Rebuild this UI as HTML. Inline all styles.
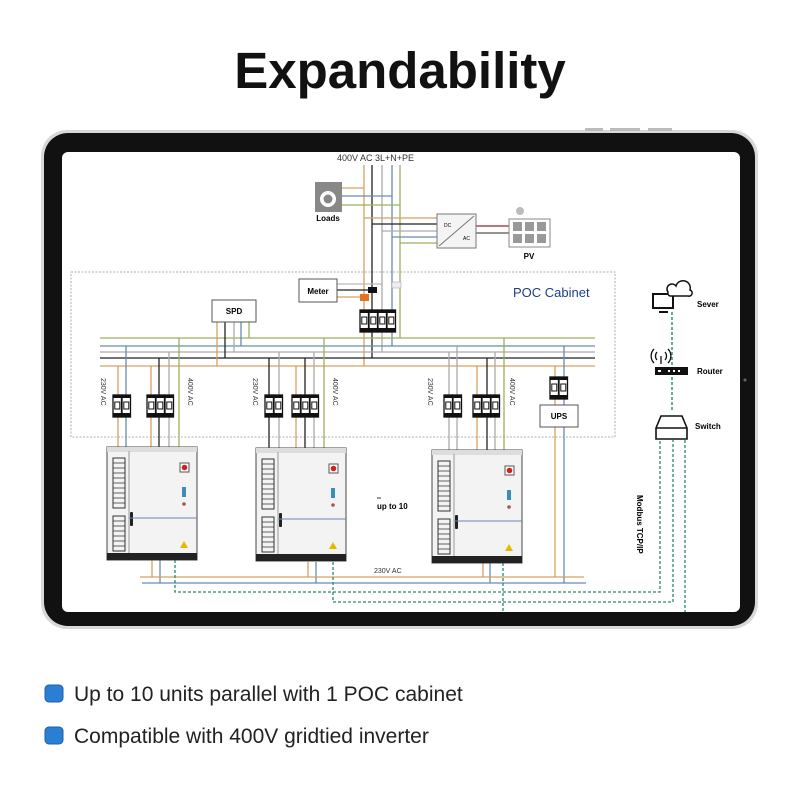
<!DOCTYPE html>
<html><head><meta charset="utf-8"><style>
body{margin:0;background:#fff;width:800px;height:800px;overflow:hidden;font-family:"Liberation Sans",sans-serif}
</style></head><body>
<svg width="800" height="800" viewBox="0 0 800 800" xmlns="http://www.w3.org/2000/svg" font-family="Liberation Sans, sans-serif">
<defs>
<g id="brk"><rect x="0" y="0" width="8.5" height="22" fill="#fff" stroke="#111" stroke-width="1.3"/><rect x="1.8" y="7" width="5" height="7" fill="none" stroke="#111" stroke-width="1"/><rect x="0" y="18" width="8.5" height="4" fill="#111"/><rect x="0" y="0" width="8.5" height="3" fill="#111"/></g>
<g id="cab">
<rect x="0" y="0" width="90" height="113" fill="#f3f3f3" stroke="#444" stroke-width="1"/>
<rect x="0" y="0" width="90" height="5" fill="#ddd"/>
<line x1="22" y1="4" x2="22" y2="106" stroke="#999"/>
<g fill="none" stroke="#333" stroke-width="1"><rect x="6" y="11" width="12" height="50"/><rect x="6" y="69" width="12" height="35"/></g>
<g stroke="#333" stroke-width="0.8"><path d="M6 16h12M6 21h12M6 26h12M6 31h12M6 36h12M6 41h12M6 46h12M6 51h12M6 56h12M6 74h12M6 79h12M6 84h12M6 89h12M6 94h12M6 99h12"/></g>
<rect x="23" y="65" width="3" height="14" rx="1" fill="#222"/>
<line x1="22" y1="71" x2="90" y2="71" stroke="#6a86b8" stroke-width="1"/>
<rect x="73" y="16" width="9" height="9" fill="#fff" stroke="#555"/><circle cx="77.5" cy="20.5" r="2.8" fill="#c22"/>
<rect x="75" y="40" width="4" height="10" fill="#3a8fb8"/><circle cx="77" cy="57" r="1.8" fill="#a55"/>
<path d="M77 94l4 7h-8z" fill="#e8b800"/>
<rect x="0" y="106" width="90" height="7" fill="#222"/>
</g>
</defs>
<rect width="800" height="800" fill="#fff"/>
<text x="400" y="88" text-anchor="middle" font-size="51" font-weight="bold" fill="#111">Expandability</text>
<!-- tablet -->
<rect x="41" y="130" width="717" height="499" rx="26" fill="#d8d8d8"/>
<rect x="44" y="133" width="711" height="493" rx="24" fill="#111"/>
<rect x="62" y="152" width="678" height="460" rx="6" fill="#fff"/>
<rect x="585" y="128" width="18" height="3" fill="#bbb"/><rect x="610" y="128" width="30" height="3" fill="#bbb"/><rect x="648" y="128" width="24" height="3" fill="#bbb"/>
<circle cx="745" cy="380" r="1.5" fill="#666"/>
<!-- POC dashed -->
<rect x="71" y="272" width="544" height="165" fill="none" stroke="#999" stroke-width="0.8" stroke-dasharray="2,1.5"/>
<text x="513" y="297" font-size="13" fill="#1a3e8c">POC Cabinet</text>
<text x="337" y="161" font-size="9" fill="#333">400V AC  3L+N+PE</text>
<g stroke-width="1.3" fill="none">
<!-- main verticals -->
<line x1="364" y1="165" x2="364" y2="366" stroke="#d8a060"/>
<line x1="372" y1="165" x2="372" y2="358" stroke="#222"/>
<line x1="382" y1="165" x2="382" y2="352" stroke="#aaa"/>
<line x1="392" y1="165" x2="392" y2="346" stroke="#6a8ab0"/>
<line x1="400" y1="165" x2="400" y2="338" stroke="#9ab060"/>
<!-- loads feeds -->
<line x1="342" y1="188" x2="364" y2="188" stroke="#d8a060"/>
<line x1="342" y1="196" x2="392" y2="196" stroke="#6a8ab0"/>
<line x1="342" y1="205" x2="400" y2="205" stroke="#9ab060"/>
<!-- inverter feeds -->
<line x1="364" y1="218" x2="437" y2="218" stroke="#d8a060"/>
<line x1="372" y1="224" x2="437" y2="224" stroke="#222"/>
<line x1="382" y1="231" x2="437" y2="231" stroke="#aaa"/>
<line x1="392" y1="237" x2="437" y2="237" stroke="#6a8ab0"/>
<line x1="400" y1="243" x2="437" y2="243" stroke="#9ab060"/>
<line x1="476" y1="226" x2="509" y2="226" stroke="#a02020"/>
<line x1="476" y1="233" x2="509" y2="233" stroke="#555"/>
<!-- buses -->
<line x1="100" y1="338" x2="595" y2="338" stroke="#9ab060"/>
<line x1="100" y1="346" x2="595" y2="346" stroke="#6a8ab0"/>
<line x1="100" y1="352" x2="595" y2="352" stroke="#aaa"/>
<line x1="100" y1="358" x2="595" y2="358" stroke="#222"/>
<line x1="100" y1="366" x2="595" y2="366" stroke="#d8a060"/>
<!-- SPD -->
<line x1="217" y1="322" x2="217" y2="366" stroke="#d8a060"/>
<line x1="225" y1="322" x2="225" y2="358" stroke="#222"/>
<line x1="234" y1="322" x2="234" y2="352" stroke="#aaa"/>
<line x1="241" y1="322" x2="241" y2="346" stroke="#6a8ab0"/>
<line x1="249" y1="322" x2="249" y2="338" stroke="#9ab060"/>
<!-- meter -->
<line x1="337" y1="284" x2="382" y2="284" stroke="#bbb"/>
<line x1="337" y1="290" x2="372" y2="290" stroke="#222"/>
<line x1="337" y1="297" x2="364" y2="297" stroke="#d8a060"/>
<!-- drops -->
<path d="M118 366V447M151 366V447" stroke="#d8a060"/>
<path d="M126 346V447" stroke="#6a8ab0"/>
<path d="M159 358V447" stroke="#222"/>
<path d="M169 352V447" stroke="#aaa"/>
<path d="M179 338V447" stroke="#9ab060"/>
<path d="M269 358V448M305 358V448" stroke="#222"/>
<path d="M279 352V448M314 352V448" stroke="#aaa"/>
<path d="M296 366V448" stroke="#d8a060"/>
<path d="M324 338V448" stroke="#9ab060"/>
<path d="M449 352V450M457 346V450M495 352V450" stroke="#aaa"/>
<path d="M477 366V450" stroke="#d8a060"/>
<path d="M487 358V450" stroke="#222"/>
<path d="M504 338V450" stroke="#9ab060"/>
<path d="M555 366V577" stroke="#d8a060"/>
<path d="M564 346V583" stroke="#6a8ab0"/>
<!-- bottom -->
<path d="M152 560V577M308 562V577M483 563V577" stroke="#d8a060"/>
<path d="M160 560V583M316 562V583M490 563V583" stroke="#6a8ab0"/>
<path d="M140 577H584" stroke="#d8a060"/>
<path d="M142 583H586" stroke="#6a8ab0"/>
<path d="M175 560V592H660V440M333 562V602H673V440M503 563V612M685 440V612" stroke="#2a8a6a" stroke-dasharray="3,2"/>
<path d="M672 312V410" stroke="#2a8a6a" stroke-dasharray="3,2" stroke-width="1.4"/>
</g>
<rect x="392" y="282" width="9" height="6" fill="#eee" stroke="#aaa" stroke-width="0.6"/>
<rect x="368" y="287" width="9" height="6" fill="#111"/>
<rect x="360" y="294" width="9" height="7" fill="#e87020"/>
<rect x="299" y="279" width="38" height="23" fill="#fff" stroke="#555"/><text x="318" y="294" text-anchor="middle" font-size="8" font-weight="bold">Meter</text>
<rect x="212" y="300" width="44" height="22" fill="#fff" stroke="#555"/><text x="234" y="314" text-anchor="middle" font-size="8" font-weight="bold">SPD</text>
<use href="#brk" x="360" y="310"/><use href="#brk" x="369" y="310"/><use href="#brk" x="378" y="310"/><use href="#brk" x="387" y="310"/>
<!-- loads icon -->
<rect x="315" y="182" width="27" height="30" fill="#888"/><circle cx="328" cy="199" r="8" fill="#fff"/><circle cx="328" cy="199" r="4.5" fill="#888"/>
<text x="328" y="221" text-anchor="middle" font-size="8" font-weight="bold">Loads</text>
<!-- inverter box -->
<rect x="437" y="214" width="39" height="34" fill="#f4f4f4" stroke="#777"/><line x1="439" y1="246" x2="474" y2="216" stroke="#777"/>
<text x="444" y="227" font-size="5">DC</text><text x="463" y="240" font-size="5">AC</text>
<rect x="509" y="219" width="41" height="28" fill="#fff" stroke="#888"/>
<g fill="#999"><rect x="513" y="222" width="9" height="9"/><rect x="525" y="222" width="9" height="9"/><rect x="537" y="222" width="9" height="9"/><rect x="513" y="234" width="9" height="9"/><rect x="525" y="234" width="9" height="9"/><rect x="537" y="234" width="9" height="9"/></g>
<circle cx="520" cy="211" r="4" fill="#bbb"/>
<text x="529" y="259" text-anchor="middle" font-size="8" font-weight="bold">PV</text>
<g>
<use href="#brk" x="113" y="395"/><use href="#brk" x="122" y="395"/>
<use href="#brk" x="147" y="395"/><use href="#brk" x="156" y="395"/><use href="#brk" x="165" y="395"/>
<use href="#brk" x="265" y="395"/><use href="#brk" x="274" y="395"/>
<use href="#brk" x="292" y="395"/><use href="#brk" x="301" y="395"/><use href="#brk" x="310" y="395"/>
<use href="#brk" x="444" y="395"/><use href="#brk" x="453" y="395"/>
<use href="#brk" x="473" y="395"/><use href="#brk" x="482" y="395"/><use href="#brk" x="491" y="395"/>
<use href="#brk" x="550" y="377"/><use href="#brk" x="559" y="377"/>
</g>
<rect x="540" y="405" width="38" height="22" fill="#fff" stroke="#555"/><text x="559" y="419" text-anchor="middle" font-size="8" font-weight="bold">UPS</text>
<g font-size="7" fill="#333">
<text transform="translate(101,378) rotate(90)">230V AC</text><text transform="translate(188,378) rotate(90)">400V AC</text>
<text transform="translate(253,378) rotate(90)">230V AC</text><text transform="translate(333,378) rotate(90)">400V AC</text>
<text transform="translate(428,378) rotate(90)">230V AC</text><text transform="translate(510,378) rotate(90)">400V AC</text>
<text x="374" y="573">230V AC</text>
</g>
<use href="#cab" x="107" y="447"/><use href="#cab" x="256" y="448"/><use href="#cab" x="432" y="450"/>
<text x="377" y="509" font-size="8" font-weight="bold">up to 10</text><line x1="377" y1="498" x2="381" y2="498" stroke="#333"/>
<text transform="translate(637,495) rotate(90)" font-size="8" font-weight="bold">Modbus TCP/IP</text>
<!-- network icons -->
<rect x="653" y="294" width="20" height="14" fill="#fff" stroke="#111" stroke-width="2"/><line x1="659" y1="312" x2="668" y2="312" stroke="#111" stroke-width="2"/>
<path d="M668 292a5 5 0 0 1 8-6a5 5 0 0 1 14 4a3 3 0 0 1-2 6h-18a3 3 0 0 1-2-4z" fill="#fff" stroke="#111" stroke-width="1.5"/>
<text x="697" y="307" font-size="8" font-weight="bold">Sever</text>
<path d="M661 364v-8M665 352a6 6 0 0 1 0 8M657 352a6 6 0 0 0 0 8M668 349a10 10 0 0 1 0 14M654 349a10 10 0 0 0 0 14" fill="none" stroke="#111" stroke-width="1.3"/>
<rect x="655" y="367" width="33" height="8" fill="#111"/><g fill="#fff"><rect x="658" y="370" width="3" height="2"/><rect x="668" y="370" width="2" height="2"/><rect x="673" y="370" width="2" height="2"/><rect x="678" y="370" width="2" height="2"/></g>
<text x="697" y="374" font-size="8" font-weight="bold">Router</text>
<path d="M656 428l5-12h21l5 12v11h-31z" fill="#fff" stroke="#111" stroke-width="1.6"/><line x1="656" y1="428" x2="687" y2="428" stroke="#111" stroke-width="1.4"/>
<text x="695" y="429" font-size="8" font-weight="bold">Switch</text>
<!-- bullets -->
<rect x="45" y="685" width="18" height="17" rx="4" fill="#2a7fd4" stroke="#1a5fa8"/>
<rect x="45" y="727" width="18" height="17" rx="4" fill="#2a7fd4" stroke="#1a5fa8"/>
<text x="74" y="701" font-size="21" fill="#222">Up to 10 units parallel with 1 POC cabinet</text>
<text x="74" y="743" font-size="21" fill="#222">Compatible with 400V gridtied inverter</text>
</svg>
</body></html>
